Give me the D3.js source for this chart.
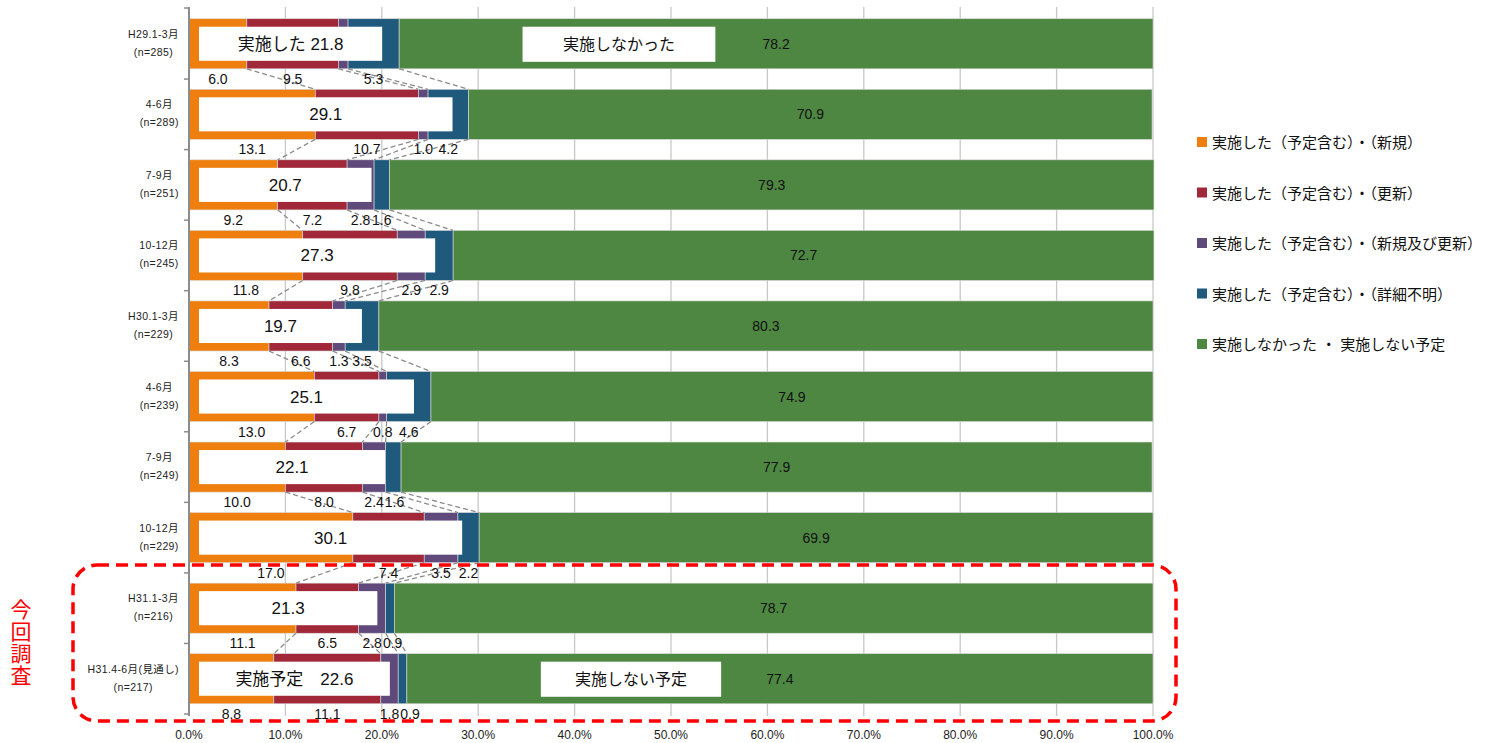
<!DOCTYPE html>
<html>
<head>
<meta charset="utf-8">
<script src="https://cdn.jsdelivr.net/npm/d3@7"></script>
<style>
  body { margin: 0; background: #fff; }
  svg { display: block; font-family: "Liberation Sans", "Noto Sans CJK JP", sans-serif; }
</style>
</head>
<body>
<svg id="chart" width="1500" height="743"></svg>
<script>
// Period labels (two lines each)
var periods = ["H29.1-3月", "4-6月", "7-9月", "10-12月", "H30.1-3月", "4-6月", "7-9月", "10-12月", "H31.1-3月", "H31.4-6月(見通し)"];
var sampleSizes = ["(n=285)", "(n=289)", "(n=251)", "(n=245)", "(n=229)", "(n=239)", "(n=249)", "(n=229)", "(n=216)", "(n=217)"];

// Series values (%)
var newOnly    = [6.0, 13.1, 9.2, 11.8, 8.3, 13.0, 10.0, 17.0, 11.1, 8.8];
var renewal    = [9.5, 10.7, 7.2, 9.8, 6.6, 6.7, 8.0, 7.4, 6.5, 11.1];
var newAndRen  = [1.0, 1.0, 2.8, 2.9, 1.3, 0.8, 2.4, 3.5, 2.8, 1.8];
var unknown    = [5.3, 4.2, 1.6, 2.9, 3.5, 4.6, 1.6, 2.2, 0.9, 0.9];
var notDone    = [78.2, 70.9, 79.3, 72.7, 80.3, 74.9, 77.9, 69.9, 78.7, 77.4];
// Totals of "実施した" shown in the white boxes
var doneTotal  = [21.8, 29.1, 20.7, 27.3, 19.7, 25.1, 22.1, 30.1, 21.3, 22.6];

var seriesNames = [
    "実施した（予定含む）・（新規）",
    "実施した（予定含む）・（更新）",
    "実施した（予定含む）・（新規及び更新）",
    "実施した（予定含む）・（詳細不明）",
    "実施しなかった ・ 実施しない予定"
];
var seriesColors = ["#EE7F0E", "#A12838", "#604A7B", "#1F5A7D", "#4E8742"];
var xTicks = [0, 10, 20, 30, 40, 50, 60, 70, 80, 90, 100];

var svg = d3.select("#chart");

var x = d3.scaleLinear().domain([0, 100]).range([189, 1153]);
var y = d3.scaleBand().domain(d3.range(periods.length)).range([8.5, 714])
    .paddingInner(0.29).paddingOuter(0.145);

// Build stacked rows
var seriesArrays = [newOnly, renewal, newAndRen, unknown, notDone];
var rows = periods.map(function (p, i) {
    var x0 = 0;
    return seriesArrays.map(function (arr, s) {
        var seg = { row: i, s: s, v: arr[i], x0: x0, x1: x0 + arr[i] };
        x0 += arr[i];
        return seg;
    });
});

// Gridlines
svg.append("g").selectAll("line").data(xTicks.slice(1)).enter().append("line")
    .attr("x1", function (d) { return x(d); })
    .attr("x2", function (d) { return x(d); })
    .attr("y1", 7).attr("y2", 716)
    .attr("stroke", "#c8c8c8").attr("stroke-width", 1.3);

// Bars
var bars = svg.append("g");
rows.forEach(function (segs) {
    bars.selectAll(null).data(segs).enter().append("rect")
        .attr("x", function (d) { return x(d.x0); })
        .attr("y", function (d) { return y(d.row); })
        .attr("width", function (d) { return x(d.x1) - x(d.x0); })
        .attr("height", y.bandwidth())
        .attr("fill", function (d) { return seriesColors[d.s]; })
        .attr("stroke", "#d9d9d9").attr("stroke-width", 0.6);
});

// Dashed connectors between consecutive bars
var conn = svg.append("g");
for (var i = 0; i < rows.length - 1; i++) {
    for (var s = 0; s < 4; s++) {
        conn.append("line")
            .attr("x1", x(rows[i][s].x1)).attr("y1", y(i) + y.bandwidth())
            .attr("x2", x(rows[i + 1][s].x1)).attr("y2", y(i + 1))
            .attr("stroke", "#8c8c8c").attr("stroke-width", 1.3)
            .attr("stroke-dasharray", "5,3");
    }
}

// Left axis
svg.append("line").attr("x1", 189).attr("x2", 189).attr("y1", 7).attr("y2", 716)
    .attr("stroke", "#8c8c8c").attr("stroke-width", 2);
var tickYs = d3.range(periods.length + 1).map(function (i) {
    return i === 0 ? 8 : (i === periods.length ? 714 : y(i) - y.step() * y.paddingInner() / 2);
});
svg.append("g").selectAll("line").data(tickYs).enter().append("line")
    .attr("x1", 184).attr("x2", 189)
    .attr("y1", function (d) { return d; }).attr("y2", function (d) { return d; })
    .attr("stroke", "#8c8c8c").attr("stroke-width", 1.5);

// Category labels
var catG = svg.append("g");
periods.forEach(function (p, i) {
    var cy = y(i) + y.bandwidth() / 2;
    var g = catG.append("g");
    var t1 = g.append("text").attr("y", cy - 6).attr("text-anchor", "middle")
        .attr("font-size", 10.5).attr("letter-spacing", 0.4).attr("fill", "#222").text(p);
    var t2 = g.append("text").attr("y", cy + 12).attr("text-anchor", "middle")
        .attr("font-size", 10.5).attr("letter-spacing", 0.4).attr("fill", "#222").text(sampleSizes[i]);
    var w = Math.max(t1.node().getComputedTextLength(), t2.node().getComputedTextLength());
    var cx = 179 - w / 2;
    t1.attr("x", cx); t2.attr("x", cx);
});

// White total boxes with text
var boxG = svg.append("g");
doneTotal.forEach(function (t, i) {
    var top = y(i) + 8, h = y.bandwidth() - 16;
    var left = x(0) + 10;
    boxG.append("rect")
        .attr("x", left).attr("y", top)
        .attr("width", x(t) - 17 - left).attr("height", h)
        .attr("fill", "#fff");
    var label = i === 0 ? "実施した 21.8" : (i === periods.length - 1 ? "実施予定　22.6" : d3.format(".1f")(t));
    boxG.append("text")
        .attr("x", (left + x(t) - 17) / 2).attr("y", top + h / 2 + 6)
        .attr("text-anchor", "middle").attr("font-size", 17).attr("fill", "#111")
        .text(label);
});

// Annotation boxes on the green segments
function greenNote(row, txt, a, b) {
    var top = y(row) + 8, h = y.bandwidth() - 15;
    boxG.append("rect").attr("x", x(a)).attr("y", top)
        .attr("width", x(b) - x(a)).attr("height", h).attr("fill", "#fff");
    boxG.append("text").attr("x", (x(a) + x(b)) / 2).attr("y", top + h / 2 + 6)
        .attr("text-anchor", "middle").attr("font-size", 16).attr("fill", "#111").text(txt);
}
greenNote(0, "実施しなかった", 34.6, 54.6);
greenNote(periods.length - 1, "実施しない予定", 36.5, 55.2);

// Green value labels
svg.append("g").selectAll("text").data(rows.map(function (r) { return r[4]; })).enter().append("text")
    .attr("x", function (d) { return x((d.x0 + d.x1) / 2); })
    .attr("y", function (d) { return y(d.row) + y.bandwidth() / 2 + 5; })
    .attr("text-anchor", "middle").attr("font-size", 14).attr("fill", "#111")
    .text(function (d) { return d3.format(".1f")(d.v); });

// Segment value labels below each bar, pushed right when they collide
var hidden = { "0-2": true };
var lblG = svg.append("g");
rows.forEach(function (segs, i) {
    var prevRight = -Infinity;
    segs.slice(0, 4).forEach(function (d) {
        if (hidden[i + "-" + d.s]) return;
        var t = lblG.append("text")
            .attr("y", y(i) + y.bandwidth() + 15)
            .attr("text-anchor", "middle").attr("font-size", 14).attr("fill", "#111")
            .text(d3.format(".1f")(d.v));
        var w = t.node().getComputedTextLength();
        var cx = Math.max(x((d.x0 + d.x1) / 2), prevRight + 1 + w / 2);
        t.attr("x", cx);
        prevRight = cx + w / 2;
    });
});

// X axis labels
svg.append("g").selectAll("text").data(xTicks).enter().append("text")
    .attr("x", function (d) { return x(d); }).attr("y", 739)
    .attr("text-anchor", "middle").attr("font-size", 12).attr("fill", "#222")
    .text(function (d) { return d3.format(".1f")(d) + "%"; });

// Legend
var leg = svg.append("g");
seriesNames.forEach(function (n, i) {
    var ly = 142 + i * 50.5;
    leg.append("rect").attr("x", 1197).attr("y", ly - 5).attr("width", 10).attr("height", 10)
        .attr("fill", seriesColors[i]);
    leg.append("text").attr("x", 1212).attr("y", ly + 6).attr("font-size", 15).attr("fill", "#111").text(n);
});

// Highlight of the current survey
svg.append("rect").attr("x", 73).attr("y", 565).attr("width", 1103).attr("height", 156)
    .attr("rx", 24).attr("ry", 24)
    .attr("fill", "none").attr("stroke", "#ff0000").attr("stroke-width", 3.5)
    .attr("stroke-dasharray", "12,7");
var vt = svg.append("text").attr("font-size", 21).attr("fill", "#ff0000").attr("text-anchor", "middle");
["今", "回", "調", "査"].forEach(function (c, k) {
    vt.append("tspan").attr("x", 21).attr("y", 617 + k * 22).text(c);
});
</script>
</body>
</html>
